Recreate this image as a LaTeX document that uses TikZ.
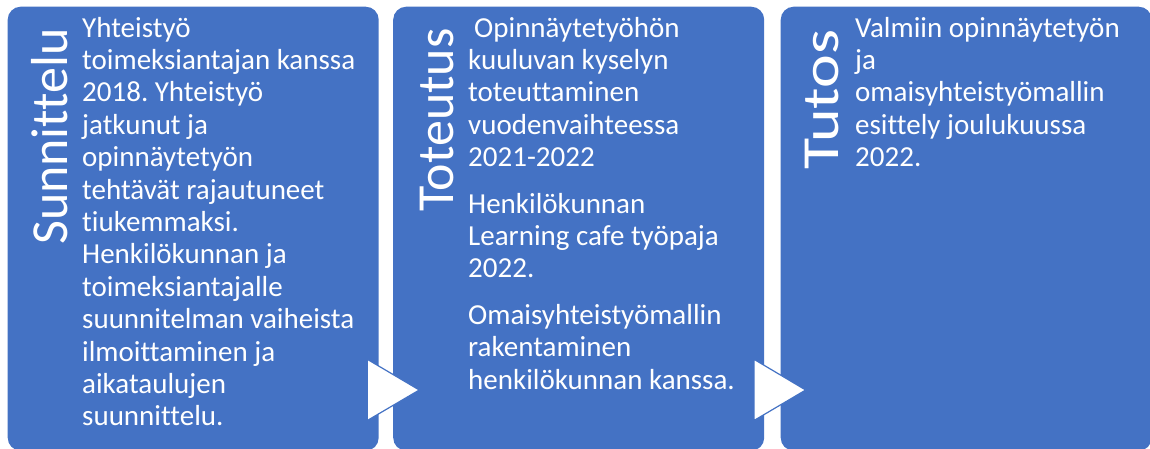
\documentclass[tikz,border=0pt]{standalone}
\usepackage{fontspec}
\setmainfont[Ligatures={NoCommon,NoRequired,NoContextual}]{Carlito}
\definecolor{officeblue}{HTML}{4472C4}
\tikzset{
  phasebox/.style={fill=officeblue, draw=none, rounded corners=13pt, inner sep=0pt, anchor=north west, minimum width=371pt, minimum height=444pt},
  phasetitle/.style={rotate=90, anchor=base west, inner sep=0pt, text=white, font=\fontsize{52}{60}\selectfont},
  bodytext/.style={anchor=base west, inner sep=0pt, text=white},
  arrowtri/.style={fill=white, draw=officeblue, line width=1.2pt, line join=miter}
}
\newcommand{\bodyfont}{\fontsize{29}{32.4}\selectfont}
\frenchspacing
\begin{document}
\begin{tikzpicture}[x=1pt,y=-1pt]
\useasboundingbox (0,0) rectangle (1150,448);
\node[phasebox] (b1) at (7.5,6.5) {};
\node[phasebox] (b2) at (393,6.5) {};
\node[phasebox] (b3) at (780.5,6.5) {};
% arrows
\filldraw[arrowtri] (367.3,359.3) coordinate (a1) -- (419.3,390) coordinate (p1) -- (367.3,420.5) -- cycle;
\filldraw[arrowtri] (754,359.3) coordinate (a2) -- (805.7,390) coordinate (p2) -- (754,420.5) -- cycle;
% titles
\node[phasetitle] (t1) at (67,245) {Sunnittelu};
\node[phasetitle] (t2) at (453,212) {Toteutus};
\node[phasetitle] (t3) at (838,170) {\scalebox{1.23}[1]{Tutos}};
% body texts
\node[bodytext] (x1) at (82,37) {\parbox[t]{290pt}{\raggedright\bodyfont
Yhteistyö\\
toimeksiantajan kanssa\\
2018. Yhteistyö\\
jatkunut ja\\
opinnäytetyön\\
tehtävät rajautuneet\\
tiukemmaksi.\\
Henkilökunnan ja\\
toimeksiantajalle\\
suunnitelman vaiheista\\
ilmoittaminen ja\\
aikataulujen\\
suunnittelu.}};
\node[bodytext] (x2) at (468,37) {\parbox[t]{290pt}{\raggedright\bodyfont
\hspace*{6pt}Opinnäytetyöhön\\
kuuluvan kyselyn\\
toteuttaminen\\
vuodenvaihteessa\\
2021-2022\\[14pt]
Henkilökunnan\\
Learning cafe työpaja\\
2022.\\[14pt]
Omaisyhteistyömallin\\
rakentaminen\\
henkilökunnan kanssa.}};
\node[bodytext] (x3) at (855,37) {\parbox[t]{290pt}{\raggedright\bodyfont
Valmiin opinnäytetyön\\
ja\\
omaisyhteistyömallin\\
esittely joulukuussa\\
2022.}};
\end{tikzpicture}
\end{document}
